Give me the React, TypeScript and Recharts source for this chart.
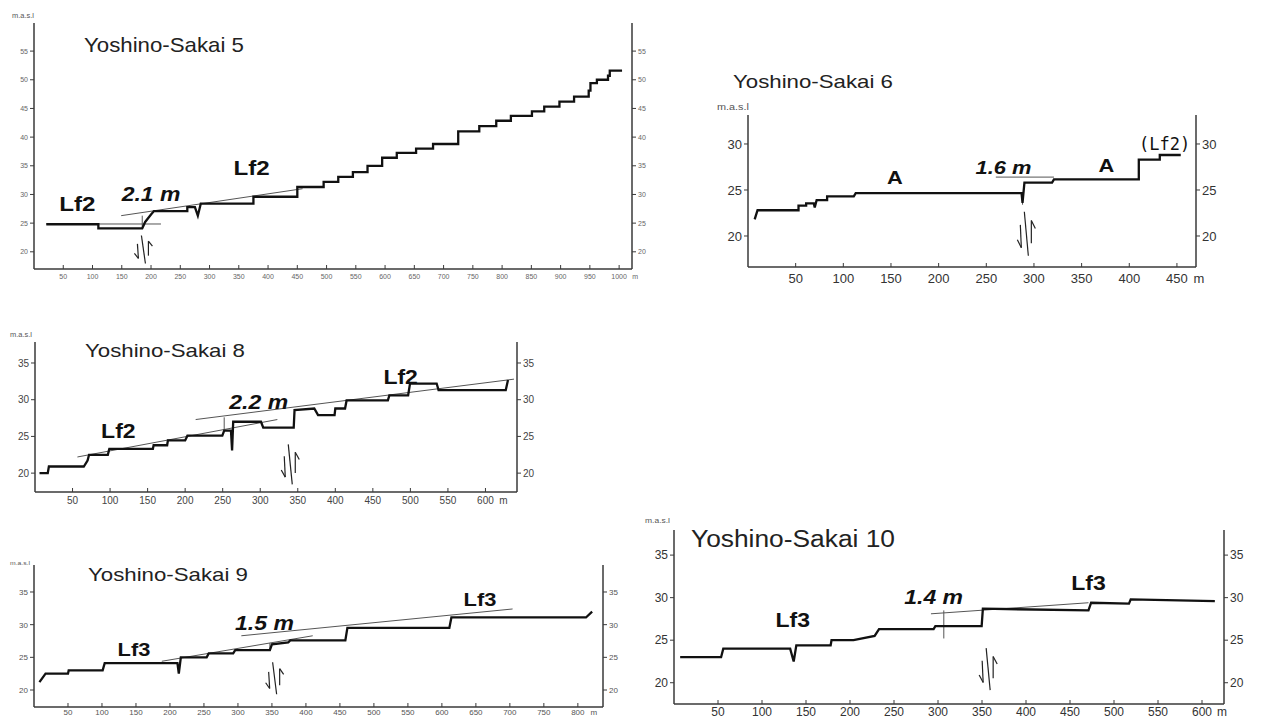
import React from 'react';
import { LineChart, Line, XAxis, YAxis, ReferenceLine, ReferenceDot } from 'recharts';

const FONT = '"Liberation Sans", Arial, Helvetica, sans-serif';

// ---------- Yoshino-Sakai 5 ----------
const ys5Distance = [21,110,110,185,190,200,205,262,262,275,280,285,375,375,450,450,495,495,520,520,545,545,570,570,595,595,620,620,653,653,682,682,725,725,761,761,790,790,815,815,851,851,872,872,898,898,923,923,948,948,951,951,962,962,981,981,984,984,1005];
const ys5Elevation = [24.8,24.8,24.1,24.1,25.2,26.5,27.1,27.1,27.8,27.8,26.3,28.4,28.4,29.6,29.6,31.3,31.3,32.2,32.2,33.05,33.05,33.9,33.9,35.0,35.0,36.4,36.4,37.25,37.25,38.0,38.0,38.8,38.8,41.0,41.0,41.9,41.9,42.85,42.85,43.7,43.7,44.5,44.5,45.3,45.3,46.2,46.2,47.05,47.05,48.1,48.1,49.4,49.4,50.0,50.0,50.7,50.7,51.6,51.6];
const ys5XTicks = [50,100,150,200,250,300,350,400,450,500,550,600,650,700,750,800,850,900,950,1000];
const ys5YTicks = [20,25,30,35,40,45,50,55];
const ys5Guides = [[21,24.85,217,24.85],[149,26.3,459,31.0],[185,26.3,185,24.4]];
const ys5Labels = [
  { text: 'Lf2', x: 74, y: 28.3, size: 21, italic: false },
  { text: '2.1 m', x: 200, y: 30.0, size: 20, italic: true },
  { text: 'Lf2', x: 372, y: 34.6, size: 21, italic: false },
];
const ys5Fault = { x: 187, y: 20.4, h: 28 };

// ---------- Yoshino-Sakai 6 ----------
const ys6Distance = [7,10,53,53,61,61,69,70,72,83,83,111,113,287,288,290,319,321,410,410,432,432,454];
const ys6Elevation = [21.8,22.8,22.8,23.3,23.3,23.55,23.55,23.1,23.9,23.9,24.3,24.3,24.65,24.65,23.6,25.8,25.8,26.15,26.15,28.3,28.3,28.8,28.8];
const ys6XTicks = [50,100,150,200,250,300,350,400,450];
const ys6YTicks = [20,25,30];
const ys6Guides = [[260,26.4,321,26.4],[288,24.3,288,23.4]];
const ys6Labels = [
  { text: 'A', x: 154, y: 26.4, size: 19, italic: false },
  { text: '1.6 m', x: 268, y: 27.45, size: 19, italic: true },
  { text: 'A', x: 376, y: 27.7, size: 19, italic: false },
  { text: '(Lf2)', x: 437, y: 29.96, size: 17, italic: false, mono: true },
];
const ys6Fault = { x: 292, y: 20.25, h: 44 };

// ---------- Yoshino-Sakai 8 ----------
const ys8Distance = [6,17,18.5,65,70,72,97,99,157,158,176,177,200,203,249.5,252,261,262.5,264,301,304,344.6,345.7,372,377,399,400,413,415,470,472,497,499.5,535,537.5,627,630];
const ys8Elevation = [20.0,20.0,20.9,20.9,21.7,22.5,22.5,23.3,23.3,23.8,23.8,24.45,24.45,25.1,25.1,25.8,25.8,23.1,27.0,27.0,26.2,26.2,28.6,28.8,27.9,27.9,28.8,28.8,29.9,29.9,30.6,30.6,32.2,32.2,31.3,31.3,32.7];
const ys8XTicks = [50,100,150,200,250,300,350,400,450,500,550,600];
const ys8YTicks = [20,25,30,35];
const ys8Guides = [[56.5,22.2,322.8,27.3],[214,27.3,638,32.8],[252,27.6,252,26.0]];
const ys8Labels = [
  { text: 'Lf2', x: 111, y: 25.8, size: 20, italic: false },
  { text: '2.2 m', x: 298, y: 29.66, size: 20, italic: true },
  { text: 'Lf2', x: 487, y: 33.05, size: 20, italic: false },
];
const ys8Fault = { x: 340, y: 21.2, h: 40 };

// ---------- Yoshino-Sakai 9 ----------
const ys9Distance = [8,17,50,51,101,104,211,213,216,254,257,293,296,347,350,374,377,458,461,611,614,812,821];
const ys9Elevation = [21.2,22.5,22.5,23.0,23.0,24.1,24.1,22.5,25.0,25.0,25.6,25.6,26.1,26.1,27.0,27.3,27.6,27.6,29.5,29.5,31.1,31.1,32.0];
const ys9XTicks = [50,100,150,200,250,300,350,400,450,500,550,600,650,700,750,800];
const ys9YTicks = [20,25,30,35];
const ys9Guides = [[188,24.4,410,28.3],[305,28.3,704,32.4],[347,27.2,347,26.0]];
const ys9Labels = [
  { text: 'Lf3', x: 147, y: 26.27, size: 19, italic: false },
  { text: '1.5 m', x: 339, y: 30.2, size: 20, italic: true },
  { text: 'Lf3', x: 656, y: 33.9, size: 19, italic: false },
];
const ys9Fault = { x: 354, y: 21.8, h: 32 };

// ---------- Yoshino-Sakai 10 ----------
const ys10Distance = [7,53.5,56,132,136,139,178,179,204,228,233,295,297,349.6,351,471,474,517,519,614.6];
const ys10Elevation = [23.0,23.0,24.0,24.0,22.5,24.4,24.4,25.0,25.0,25.5,26.3,26.3,26.65,26.65,28.7,28.5,29.4,29.3,29.8,29.6];
const ys10XTicks = [50,100,150,200,250,300,350,400,450,500,550,600];
const ys10YTicks = [20,25,30,35];
const ys10Guides = [[292,28.1,471,29.4],[306.6,28.5,306.6,25.2]];
const ys10Labels = [
  { text: 'Lf3', x: 135, y: 27.4, size: 20, italic: false },
  { text: '1.4 m', x: 295, y: 30.1, size: 20, italic: true },
  { text: 'Lf3', x: 471, y: 31.7, size: 20, italic: false },
];
const ys10Fault = { x: 357, y: 21.6, h: 42 };

type Panel = {
  x0: number; x1: number; y0: number; y1: number;
  xDomain: [number, number]; yDomain: [number, number];
  xTicks: number[]; yTicks: number[];
  tickFont: number; tickColor: string; xGap: number; mGap: number;
  distance: number[]; elevation: number[];
  guides: number[][]; labels: any[]; fault: { x: number; y: number; h: number };
};

const panels: Panel[] = [
  { x0: 34, x1: 632, y0: 23, y1: 269, xDomain: [0, 1022], yDomain: [17.0, 59.9], xTicks: ys5XTicks, yTicks: ys5YTicks, tickFont: 7, tickColor: '#666', xGap: 14, mGap: 16, distance: ys5Distance, elevation: ys5Elevation, guides: ys5Guides, labels: ys5Labels, fault: ys5Fault },
  { x0: 748, x1: 1196, y0: 115, y1: 267, xDomain: [0, 470], yDomain: [16.63, 33.15], xTicks: ys6XTicks, yTicks: ys6YTicks, tickFont: 13, tickColor: '#333', xGap: 20, mGap: 22, distance: ys6Distance, elevation: ys6Elevation, guides: ys6Guides, labels: ys6Labels, fault: ys6Fault },
  { x0: 35, x1: 517, y0: 342, y1: 492, xDomain: [0, 642], yDomain: [17.43, 37.86], xTicks: ys8XTicks, yTicks: ys8YTicks, tickFont: 10, tickColor: '#444', xGap: 16, mGap: 18, distance: ys8Distance, elevation: ys8Elevation, guides: ys8Guides, labels: ys8Labels, fault: ys8Fault },
  { x0: 34, x1: 603, y0: 565, y1: 707, xDomain: [0, 837], yDomain: [17.4, 39.13], xTicks: ys9XTicks, yTicks: ys9YTicks, tickFont: 8, tickColor: '#555', xGap: 12, mGap: 16, distance: ys9Distance, elevation: ys9Elevation, guides: ys9Guides, labels: ys9Labels, fault: ys9Fault },
  { x0: 674, x1: 1224, y0: 530, y1: 704, xDomain: [0, 625], yDomain: [17.5, 37.95], xTicks: ys10XTicks, yTicks: ys10YTicks, tickFont: 12, tickColor: '#333', xGap: 16, mGap: 20, distance: ys10Distance, elevation: ys10Elevation, guides: ys10Guides, labels: ys10Labels, fault: ys10Fault },
];

const titles = [
  { text: 'Yoshino-Sakai 5', x: 84, y: 52, size: 21, len: 160 },
  { text: 'Yoshino-Sakai 6', x: 733, y: 88, size: 19, len: 160 },
  { text: 'Yoshino-Sakai 8', x: 85, y: 357, size: 19, len: 160 },
  { text: 'Yoshino-Sakai 9', x: 88, y: 581, size: 19, len: 160 },
  { text: 'Yoshino-Sakai 10', x: 691, y: 547, size: 23, len: 204 },
];
const unitLabels = [
  { x: 12, y: 18, size: 7, len: 22 },
  { x: 717, y: 110, size: 9, len: 32 },
  { x: 10, y: 337, size: 7, len: 22 },
  { x: 10, y: 565, size: 6, len: 20 },
  { x: 645, y: 523, size: 7, len: 25 },
];

const AX = '#3a3a3a';

function ProfilePanel({ p }: { p: Panel }) {
  const padL = 36, padR = 36, padT = 6, padB = 30;
  const W = p.x1 - p.x0 + padL + padR;
  const H = p.y1 - p.y0 + padT + padB;
  const data = p.distance.map((d, i) => ({ d, e: p.elevation[i] }));
  const lastX = p.xTicks[p.xTicks.length - 1];
  const XTick = (props: any) => {
    const { x, y, payload } = props;
    return (
      <g>
        <text x={x} y={y + p.xGap} textAnchor="middle" fontSize={p.tickFont} fill={p.tickColor} fontFamily={FONT}>{payload.value}</text>
        {payload.value === lastX && (
          <text x={x + p.mGap} y={y + p.xGap} textAnchor="middle" fontSize={p.tickFont} fill={p.tickColor} fontFamily={FONT}>m</text>
        )}
      </g>
    );
  };
  const tickStyle = { fontSize: p.tickFont, fill: p.tickColor, fontFamily: FONT };
  return (
    <div style={{ position: 'absolute', left: p.x0 - padL, top: p.y0 - padT }}>
      <LineChart width={W} height={H} data={data} margin={{ top: padT, right: 0, bottom: 0, left: 0 }}>
        <XAxis xAxisId="x" dataKey="d" type="number" domain={p.xDomain} ticks={p.xTicks} allowDataOverflow height={padB}
          axisLine={{ stroke: AX, strokeWidth: 1.5 }} tickLine={{ stroke: AX, strokeWidth: 1 }} tickSize={-4} tickMargin={0} tick={<XTick />} interval={0} />
        <YAxis yAxisId="l" type="number" domain={p.yDomain} ticks={p.yTicks} allowDataOverflow width={padL}
          axisLine={{ stroke: AX, strokeWidth: 1.5 }} tickLine={{ stroke: AX, strokeWidth: 1 }} tickSize={4} tickMargin={2} tick={tickStyle} interval={0} />
        <YAxis yAxisId="r" orientation="right" type="number" domain={p.yDomain} ticks={p.yTicks} allowDataOverflow width={padR}
          axisLine={{ stroke: AX, strokeWidth: 1.5 }} tickLine={{ stroke: AX, strokeWidth: 1 }} tickSize={4} tickMargin={2} tick={tickStyle} interval={0} />
        {p.guides.map((g, i) => (
          <ReferenceLine key={'g' + i} xAxisId="x" yAxisId="l" ifOverflow="visible"
            segment={[{ x: g[0], y: g[1] }, { x: g[2], y: g[3] }]} stroke="#555" strokeWidth={1} />
        ))}
        <Line xAxisId="x" yAxisId="l" dataKey="e" type="linear" stroke="#111" strokeWidth={2.3} dot={false} isAnimationActive={false} />
        {p.labels.map((lb, i) => (
          <ReferenceDot key={'l' + i} xAxisId="x" yAxisId="l" x={lb.x} y={lb.y} r={0} ifOverflow="visible"
            shape={(s: any) => (
              <text transform={`translate(${s.cx},${s.cy}) scale(${lb.mono ? 1 : 1.15},1)`} x={0} y={0}
                textAnchor="middle" dominantBaseline="central" fontSize={lb.size}
                fontWeight={lb.mono ? 'normal' : 'bold'} fontStyle={lb.italic ? 'italic' : 'normal'}
                fontFamily={lb.mono ? '"DejaVu Sans Mono", monospace' : FONT} fill="#111">{lb.text}</text>
            )} />
        ))}
        <ReferenceDot xAxisId="x" yAxisId="l" x={p.fault.x} y={p.fault.y} r={0} ifOverflow="visible"
          shape={(s: any) => {
            const cx = s.cx, cy = s.cy, h = p.fault.h;
            return (
              <g stroke="#222" strokeWidth={1.2} fill="none">
                <line x1={cx - 2} y1={cy - h / 2} x2={cx + 2} y2={cy + h / 2} />
                <line x1={cx - 6} y1={cy - h * 0.2} x2={cx - 5} y2={cy + h * 0.32} />
                <line x1={cx - 5} y1={cy + h * 0.32} x2={cx - 9} y2={cy + h * 0.14} />
                <line x1={cx + 5} y1={cy + h * 0.22} x2={cx + 5} y2={cy - h * 0.3} />
                <line x1={cx + 5} y1={cy - h * 0.3} x2={cx + 9} y2={cy - h * 0.12} />
              </g>
            );
          }} />
      </LineChart>
    </div>
  );
}

export default function App() {
  return (
    <div style={{ position: 'absolute', left: 0, top: 0, width: 1266, height: 724, background: '#fff', overflow: 'hidden' }}>
      {panels.map((p, i) => <ProfilePanel key={i} p={p} />)}
      <svg width={1266} height={724} style={{ position: 'absolute', left: 0, top: 0, pointerEvents: 'none' }}>
        {titles.map((t, i) => (
          <text key={i} x={t.x} y={t.y} fontSize={t.size} fontFamily={FONT} fill="#222" textLength={t.len} lengthAdjust="spacingAndGlyphs">{t.text}</text>
        ))}
        {unitLabels.map((u, i) => (
          <text key={'u' + i} x={u.x} y={u.y} fontSize={u.size} fontFamily={FONT} fill="#555" textLength={u.len} lengthAdjust="spacingAndGlyphs">m.a.s.l</text>
        ))}
      </svg>
    </div>
  );
}
